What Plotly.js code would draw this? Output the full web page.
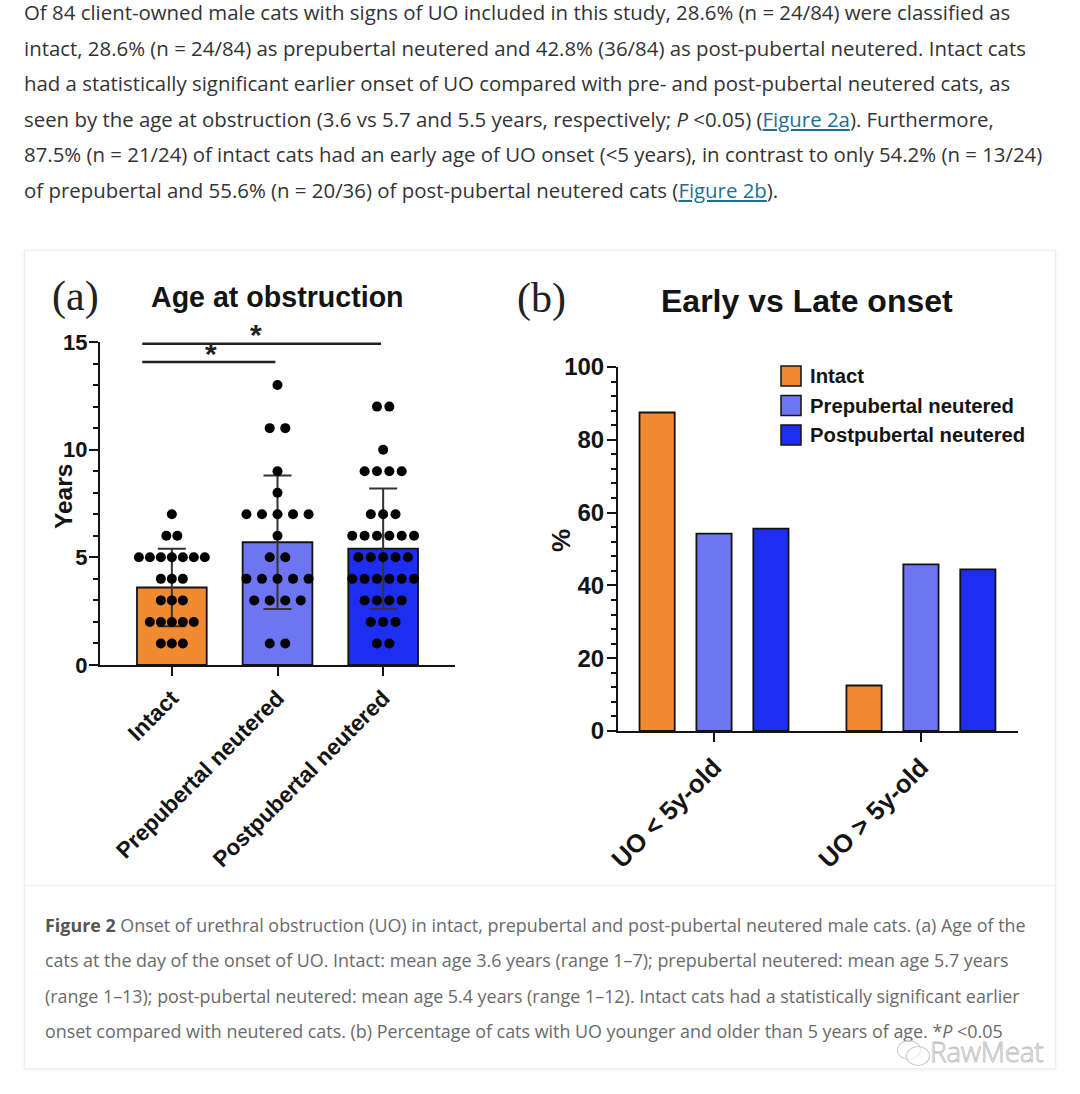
<!DOCTYPE html>
<html>
<head>
<meta charset="utf-8">
<script src="https://cdn.plot.ly/plotly-3.0.1.min.js"></script>
<style>
  body{margin:0;width:1080px;height:1094px;position:relative;background:#fff;overflow:hidden;}
  #para{position:absolute;left:24px;top:-5px;font-family:'Open Sans',sans-serif;font-size:20.4px;line-height:35.6px;color:#333;white-space:nowrap;}
  #para a{color:#1f6f93;text-decoration:underline;}
  #box{position:absolute;left:24px;top:250px;width:1032px;height:819px;border:1px solid #eee;box-shadow:0 1px 4px rgba(0,0,0,0.07);box-sizing:border-box;}
  #sep{position:absolute;left:25px;top:885px;width:1030px;height:1px;background:#f1f1f1;}
  #cap{position:absolute;left:45px;top:908px;font-family:'Open Sans',sans-serif;font-size:17.9px;line-height:35.4px;color:#6a6a6a;white-space:nowrap;}
  #cap b{color:#555;font-weight:700;}
  #wm{position:absolute;left:930px;top:1037px;line-height:28px;font-family:'Open Sans',sans-serif;font-weight:300;font-size:28px;color:rgba(255,255,255,0.9);-webkit-text-stroke:0.8px #bdbdbd;letter-spacing:-0.3px;}
  .bub{position:absolute;border:1.5px solid #c8c8c8;border-radius:50%;background:rgba(255,255,255,0.6);}
  #plot{position:absolute;left:0;top:0;width:1080px;height:1094px;}
</style>
</head>
<body>
<div id="para">Of 84 client-owned male cats with signs of UO included in this study, 28.6% (n = 24/84) were classified as<br>intact, 28.6% (n = 24/84) as prepubertal neutered and 42.8% (36/84) as post-pubertal neutered. Intact cats<br>had a statistically significant earlier onset of UO compared with pre- and post-pubertal neutered cats, as<br>seen by the age at obstruction (3.6 vs 5.7 and 5.5 years, respectively; <i>P</i> &lt;0.05) (<a>Figure 2a</a>). Furthermore,<br>87.5% (n = 21/24) of intact cats had an early age of UO onset (&lt;5 years), in contrast to only 54.2% (n = 13/24)<br>of prepubertal and 55.6% (n = 20/36) of post-pubertal neutered cats (<a>Figure 2b</a>).</div>
<div id="box"></div>
<div id="sep"></div>
<div id="cap"><b>Figure 2</b> Onset of urethral obstruction (UO) in intact, prepubertal and post-pubertal neutered male cats. (a) Age of the<br>cats at the day of the onset of UO. Intact: mean age 3.6 years (range 1–7); prepubertal neutered: mean age 5.7 years<br>(range 1–13); post-pubertal neutered: mean age 5.4 years (range 1–12). Intact cats had a statistically significant earlier<br>onset compared with neutered cats. (b) Percentage of cats with UO younger and older than 5 years of age. *<i>P</i> &lt;0.05</div>
<div class="bub" style="left:897px;top:1040px;width:22px;height:18px;"></div>
<div class="bub" style="left:906px;top:1046px;width:22px;height:18px;"></div>
<div id="wm">RawMeat</div>
<div id="plot"></div>
<script>
// ---------- data ----------
const groups = ['Intact', 'Prepubertal neutered', 'Postpubertal neutered'];
const meanAge = [3.6, 5.7, 5.4];
const sdAge = [1.8, 3.1, 2.8];
const intactAges = [7, 6, 6, 5, 5, 5, 5, 5, 5, 5, 4, 4, 4, 3, 3, 3, 2, 2, 2, 2, 2, 1, 1, 1];
const preAges = [13, 11, 11, 9, 8, 7, 7, 7, 7, 7, 6, 5, 5, 4, 4, 4, 4, 4, 3, 3, 3, 3, 1, 1];
const postAges = [12, 12, 10, 9, 9, 9, 9, 7, 7, 7, 6, 6, 6, 6, 6, 6, 5, 5, 5, 5, 5, 4, 4, 4, 4, 4, 4, 3, 3, 3, 3, 2, 2, 2, 1, 1];
const sigPairs = [[0, 1], [0, 2]];
const sigLabels = ['*', '*'];

const onsetCats = ['UO < 5y-old', 'UO > 5y-old'];
const intactPct = [87.5, 12.5];
const prePct = [54.2, 45.8];
const postPct = [55.6, 44.4];

// ---------- style ----------
const colors = ['#EF8A30', '#6D75F3', '#1E2DF2'];
const dotSpacing = [0.104, 0.147, 0.117];
const W = 1080, H = 1094;
const px = v => v / W, py = v => 1 - v / H;
const fontB = 'Liberation Sans, Arial, sans-serif';
const ink = '#141414';

// panel a geometry (pixels)
const aLeft = 100, aRight = 455, aBottom = 665, aTop = 342, aXmin = -0.68, aXmax = 2.68, aYmax = 15;
const aPxX = v => aLeft + (v - aXmin) / (aXmax - aXmin) * (aRight - aLeft);
const aPxY = v => aBottom - v / aYmax * (aBottom - aTop);

// beeswarm rows
function swarm(ages, idx) {
  const counts = {};
  ages.forEach(a => counts[a] = (counts[a] || 0) + 1);
  const xs = [], ys = [];
  Object.keys(counts).forEach(k => {
    const n = counts[k];
    for (let j = 0; j < n; j++) {
      xs.push(idx + (j - (n - 1) / 2) * dotSpacing[idx]);
      ys.push(+k);
    }
  });
  return {xs, ys};
}
const allAges = [intactAges, preAges, postAges];

const traces = [];
traces.push({
  type: 'bar', x: [0, 1, 2], y: meanAge, width: 0.66, xaxis: 'x', yaxis: 'y',
  marker: {color: colors, line: {color: ink, width: 1.8}},
  error_y: {type: 'data', array: sdAge, visible: true, color: '#333', thickness: 2, width: 14},
  hoverinfo: 'skip', showlegend: false
});
allAges.forEach((ages, i) => {
  const s = swarm(ages, i);
  traces.push({type: 'scatter', mode: 'markers', x: s.xs, y: s.ys, xaxis: 'x', yaxis: 'y',
    marker: {color: '#000', size: 10}, hoverinfo: 'skip', showlegend: false});
});
const pctSeries = [intactPct, prePct, postPct];
const bW = 0.17, bStep = 0.275;
pctSeries.forEach((vals, i) => {
  traces.push({type: 'bar', x: [0, 1], y: vals, xaxis: 'x2', yaxis: 'y2',
    width: bW, offset: (i - 1) * bStep - bW / 2, name: groups[i],
    marker: {color: colors[i], line: {color: ink, width: 1.8}}, hoverinfo: 'skip', showlegend: false});
});

const axBase = {
  showline: true, linecolor: ink, linewidth: 2, ticks: 'outside', ticklen: 9, tickwidth: 2, tickcolor: ink,
  showgrid: false, zeroline: false, fixedrange: true
};

const shapes = [], annotations = [];
// significance lines
const sigY = [14.07, 14.92];
sigPairs.forEach((p, k) => {
  const x0 = p[0] - 0.28, x1 = p[1] - 0.02;
  shapes.push({type: 'line', xref: 'x', yref: 'y', x0: x0, x1: x1, y0: sigY[k], y1: sigY[k],
    line: {color: '#222', width: 2.5}});
  annotations.push({xref: 'paper', yref: 'paper', x: px(aPxX((x0 + x1) / 2 + (k === 0 ? 0.02 : -0.05))), y: py(aPxY(sigY[k]) - 9),
    text: sigLabels[k], showarrow: false, xanchor: 'center', yanchor: 'middle',
    font: {family: fontB, size: 30, color: '#222', weight: 'bold'}});
});
// legend (manual)
groups.forEach((g, i) => {
  const top = 366 + i * 29.5;
  shapes.push({type: 'rect', xref: 'paper', yref: 'paper', x0: px(781), x1: px(801), y0: py(top), y1: py(top + 20),
    fillcolor: colors[i], line: {color: ink, width: 1.5}});
  annotations.push({xref: 'paper', yref: 'paper', x: px(808), y: py(top + 10), xanchor: 'left', yanchor: 'middle',
    text: g, showarrow: false, font: {family: fontB, size: 20.3, color: ink, weight: 'bold'}});
});
const txt = (t, x, y, size, opts) => Object.assign({xref: 'paper', yref: 'paper', x: px(x), y: py(y), text: t,
  showarrow: false, xanchor: 'center', yanchor: 'middle', font: {family: fontB, size: size, color: ink, weight: 'bold'}}, opts || {});
annotations.push(txt('(a)', 75, 297, 42, {font: {family: 'Liberation Serif, Times New Roman, serif', size: 42, color: '#222'}}));
annotations.push(txt('Age at obstruction', 277, 297, 28.6));
annotations.push(txt('(b)', 541, 298, 42, {font: {family: 'Liberation Serif, Times New Roman, serif', size: 42, color: '#222'}}));
annotations.push(txt('Early vs Late onset', 807, 301, 32));
annotations.push(txt('Years', 63, 497, 24.5, {textangle: -90}));
annotations.push(txt('%', 561, 541, 26, {textangle: -90}));

const layout = {
  width: W, height: H, margin: {l: 0, r: 0, t: 0, b: 0},
  paper_bgcolor: 'rgba(0,0,0,0)', plot_bgcolor: 'rgba(0,0,0,0)',
  barmode: 'overlay', showlegend: false,
  xaxis: Object.assign({}, axBase, {domain: [px(aLeft), px(aRight)], range: [aXmin, aXmax], anchor: 'y',
    tickvals: [0, 1, 2], ticktext: groups, tickangle: -45,
    tickfont: {family: fontB, size: 22.5, color: ink, weight: 'bold'}}),
  yaxis: Object.assign({}, axBase, {domain: [py(aBottom), py(aTop)], range: [0, aYmax], anchor: 'x',
    tickvals: [0, 5, 10, 15], ticklabelstandoff: -3,
    minor: {dtick: 1, ticks: 'outside', ticklen: 5, tickwidth: 2, tickcolor: ink},
    tickfont: {family: fontB, size: 22, color: ink, weight: 'bold'}}),
  xaxis2: Object.assign({}, axBase, {domain: [px(618), px(1018)], range: [-0.464, 1.469], anchor: 'y2',
    tickvals: [0, 1], ticktext: onsetCats, tickangle: -45,
    tickfont: {family: fontB, size: 25.5, color: ink, weight: 'bold'}}),
  yaxis2: Object.assign({}, axBase, {domain: [py(731), py(367)], range: [0, 100], anchor: 'x2',
    tickvals: [0, 20, 40, 60, 80, 100], ticklabelstandoff: -2,
    minor: {dtick: 4, ticks: 'outside', ticklen: 5, tickwidth: 2, tickcolor: ink},
    tickfont: {family: fontB, size: 24, color: ink, weight: 'bold'}}),
  shapes: shapes, annotations: annotations
};
Plotly.newPlot('plot', traces, layout, {staticPlot: true, displayModeBar: false});
</script>
</body>
</html>
